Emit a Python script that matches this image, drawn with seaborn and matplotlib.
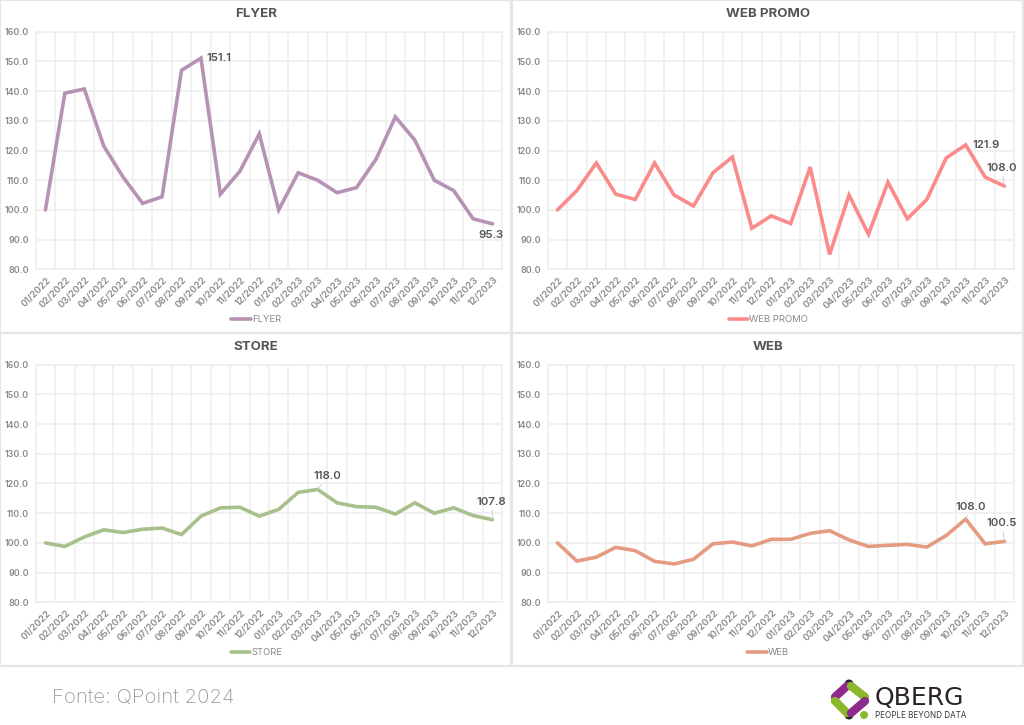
"""
Price index charts by channel, 2x2 panel
"""

import matplotlib
matplotlib.use("Agg")
import matplotlib.pyplot as plt
from matplotlib.lines import Line2D
from matplotlib.patches import Circle, Rectangle
from matplotlib.transforms import IdentityTransform
import pandas as pd
import seaborn as sns

months = ['01/2022', '02/2022', '03/2022', '04/2022', '05/2022', '06/2022',
          '07/2022', '08/2022', '09/2022', '10/2022', '11/2022', '12/2022',
          '01/2023', '02/2023', '03/2023', '04/2023', '05/2023', '06/2023',
          '07/2023', '08/2023', '09/2023', '10/2023', '11/2023', '12/2023']

flyer = [100.0, 139.3, 140.7, 121.5, 111.0, 102.2, 104.4, 147.0, 151.1, 105.3, 113.0, 125.6,
         100.0, 112.5, 110.0, 105.8, 107.5, 117.0, 131.3, 123.5, 110.0, 106.5, 97.0, 95.3]
web_promo = [100.0, 106.5, 115.8, 105.3, 103.5, 115.8, 105.0, 101.3, 112.5, 117.8, 93.8, 98.0,
             95.4, 114.4, 85.0, 105.0, 91.8, 109.3, 97.0, 103.5, 117.5, 121.9, 111.0, 108.0]
store = [100.0, 98.8, 102.0, 104.4, 103.5, 104.6, 105.0, 102.8, 109.0, 111.8, 112.0, 109.0,
         111.3, 117.0, 118.0, 113.5, 112.2, 112.0, 109.7, 113.5, 110.0, 111.8, 109.2, 107.8]
web = [100.0, 93.9, 95.2, 98.5, 97.4, 93.8, 92.9, 94.5, 99.7, 100.3, 99.0, 101.2,
       101.2, 103.2, 104.1, 101.0, 98.8, 99.2, 99.5, 98.6, 102.5, 108.0, 99.7, 100.5]

y_ticks = [80, 90, 100, 110, 120, 130, 140, 150, 160]

W, H = 1024, 725
TEXT = '#8a8a8a'
DARK = '#555555'
GRID = '#eeeeee'

sns.set_theme(style="white")
plt.rcParams['font.family'] = ['Inter', 'DejaVu Sans']


def box(x0, y0, x1, y1):
    """Pixel box (top-left origin) to figure fractions"""
    return [x0 / W, 1 - y1 / H, (x1 - x0) / W, (y1 - y0) / H]


def px(x, y):
    return (x / W, 1 - y / H)


# name, values, colour, panel left, panel top, callouts (month index, text, dx, dy, leader)
panels = [
    ('FLYER', flyer, '#b692b5', 0, 0, [(8, '151.1', 18, 0, False), (23, '95.3', -2, -11, False)]),
    ('WEB PROMO', web_promo, '#fb8a8a', 512, 0, [(21, '121.9', 20, 0, False), (23, '108.0', -3, 18, True)]),
    ('STORE', store, '#a7c08c', 0, 333, [(14, '118.0', 10, 13, True), (23, '107.8', -1, 18, True)]),
    ('WEB', web, '#e59b80', 512, 333, [(21, '108.0', 5, 12, True), (23, '100.5', -3, 18, True)]),
]

fig = plt.figure(figsize=(W / 100, H / 100), dpi=100, facecolor='white')

for name, values, color, left, top, callouts in panels:
    ax = fig.add_axes(box(left + 35.7, top + 31.7, left + 502.3, top + 269.3))
    df = pd.DataFrame({'month': months, 'value': values})
    sns.lineplot(data=df, x='month', y='value', color=color, linewidth=2.6, ax=ax,
                 sort=False, legend=False, solid_joinstyle='miter', zorder=3)

    ax.set_xlim(-0.5, len(months) - 0.5)
    ax.set_ylim(80, 160)
    ax.set_xlabel('')
    ax.set_ylabel('')
    ax.set_yticks(y_ticks)
    ax.set_yticklabels([f'{v:.1f}' for v in y_ticks], fontsize=6.4, color=TEXT, fontweight='semibold')
    ax.set_xticks([i - 0.5 for i in range(len(months) + 1)], minor=False)
    ax.set_xticklabels([''] * (len(months) + 1))
    ax.tick_params(axis='both', length=0, pad=5)
    ax.grid(True, color=GRID, linewidth=1.1)
    ax.set_axisbelow(True)
    for side in ax.spines.values():
        side.set_color(GRID)
        side.set_linewidth(1.1)

    for i, month in enumerate(months):
        ax.annotate(month, (i, 80), xytext=(1, -6), textcoords='offset pixels', rotation=45,
                    ha='right', va='top', rotation_mode='anchor', fontsize=6.8, color=TEXT,
                    fontweight='semibold')

    for idx, label, dx, dy, leader in callouts:
        ax.annotate(label, (idx, values[idx]), xytext=(dx, dy), textcoords='offset pixels',
                    ha='center', va='center', fontsize=8.2, color=DARK, fontweight='semibold',
                    arrowprops=dict(arrowstyle='-', color='#c8c8c8', lw=0.6, shrinkA=0, shrinkB=0)
                    if leader else None, zorder=5)

    fig.text((left + 256) / W, 1 - (top + 14) / H, name, ha='center', va='center',
             fontsize=9.6, fontweight='bold', color=DARK)

    # legend key and label, centred under the panel rather than the plot
    handles = ax.get_lines()[:1]
    ax.legend(handles, [name], loc='center', bbox_to_anchor=(0.473, -0.213), frameon=False,
              fontsize=6.8, handlelength=2.1, handletextpad=0.1, labelcolor=TEXT)

    # panel frame
    fig.add_artist(Rectangle((left / W, 1 - (top + 333) / H), 511 / W, 333 / H,
                             transform=fig.transFigure, fill=False, edgecolor='#e6e6e6', linewidth=1.6))

fig.text(52 / W, 1 - 698 / H, 'Fonte: QPoint 2024', ha='left', va='center',
         fontsize=14.7, color='#9a9a9a', fontweight='light')


# logo
def logo_bar(p0, p1, color):
    fig.add_artist(Line2D([px(*p0)[0], px(*p1)[0]], [px(*p0)[1], px(*p1)[1]], transform=fig.transFigure,
                          color=color, linewidth=6, solid_capstyle='round'))


def logo_dot(x, y, radius, color):
    fig.add_artist(Circle((x, H - y), radius, transform=IdentityTransform(),
                          facecolor=color, edgecolor='none'))


logo_bar((847, 686), (835, 697), '#8e2a8b')
logo_bar((851, 686), (865, 697), '#8ab82b')
logo_bar((835, 701), (847, 713), '#8ab82b')
logo_bar((865, 701), (851, 713), '#8e2a8b')
logo_dot(849, 684, 4.5, '#2a2326')
logo_dot(849, 715, 4.5, '#2a2326')
logo_dot(864, 715, 4, '#8ab82b')
fig.text(875 / W, 1 - 698 / H, 'QBERG', ha='left', va='center', fontsize=18, color='#2a2326',
         family=['DejaVu Sans'])
fig.text(875 / W, 1 - 715 / H, 'PEOPLE BEYOND DATA', ha='left', va='center', fontsize=5.8, color='#3a3336')

fig.savefig('out.png', dpi=100)
plt.close(fig)
